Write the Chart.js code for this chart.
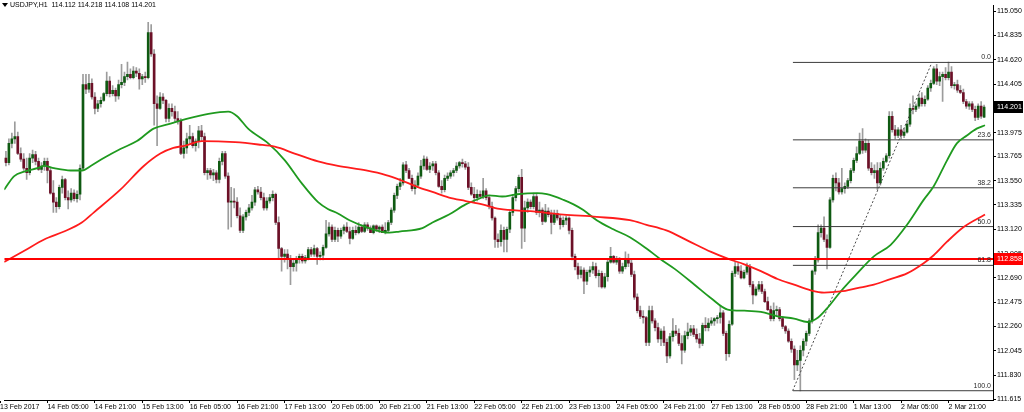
<!DOCTYPE html>
<html>
<head>
<meta charset="utf-8">
<script src="https://cdn.jsdelivr.net/npm/chart.js@4.4.1/dist/chart.umd.min.js"></script>
<style>
  html, body { margin: 0; padding: 0; background: #fff; }
  #wrap { width: 1024px; height: 412px; }
</style>
</head>
<body>
<div id="wrap"><canvas id="chart" width="1024" height="412"></canvas></div>
<script>
// USDJPY H1 - bar index 0 = 13 Feb 13:00, one bar per hour (weekend skipped)
const firstBar = 1;

const opens = [
  113.72,113.75,113.71,113.88,113.92,113.94,113.79,113.74,113.66,113.62,
  113.75,113.78,113.72,113.65,113.68,113.72,113.64,113.44,113.36,113.32,
  113.49,113.56,113.40,113.38,113.44,113.39,113.43,113.66,114.40,114.36,
  114.41,114.29,114.19,114.23,114.26,114.32,114.43,114.32,114.35,114.30,
  114.40,114.42,114.47,114.49,114.46,114.52,114.50,114.45,114.47,114.46,
  114.86,114.67,114.23,114.19,114.29,114.26,114.10,114.19,114.16,114.10,
  114.08,113.79,113.84,113.92,113.94,113.86,113.90,113.99,113.94,113.62,
  113.64,113.60,113.62,113.56,113.72,113.79,113.59,113.36,113.37,113.36,
  113.24,113.11,113.23,113.27,113.31,113.36,113.47,113.45,113.40,113.31,
  113.37,113.40,113.43,113.18,112.95,112.88,112.90,112.86,112.79,112.82,
  112.86,112.88,112.84,112.87,112.94,112.90,112.95,112.88,112.89,112.96,
  113.08,113.14,113.03,113.11,113.06,113.11,113.14,113.10,113.04,113.11,
  113.09,113.14,113.10,113.16,113.13,113.09,113.15,113.12,113.14,113.09,
  113.11,113.18,113.29,113.42,113.50,113.53,113.69,113.64,113.57,113.48,
  113.51,113.59,113.68,113.74,113.65,113.68,113.70,113.62,113.50,113.47,
  113.57,113.59,113.62,113.64,113.68,113.71,113.70,113.67,113.49,113.43,
  113.40,113.43,113.41,113.46,113.40,113.32,113.22,113.03,113.01,113.11,
  113.03,113.12,113.27,113.40,113.48,113.58,113.13,113.31,113.36,113.32,
  113.41,113.27,113.29,113.19,113.28,113.25,113.18,113.26,113.22,113.16,
  113.20,113.22,113.11,112.88,112.79,112.72,112.76,112.66,112.74,112.76,
  112.79,112.71,112.73,112.61,112.70,112.83,112.88,112.83,112.85,112.75,
  112.79,112.85,112.82,112.72,112.52,112.40,112.35,112.34,112.12,112.40,
  112.31,112.25,112.15,112.22,112.12,112.00,112.17,112.22,112.20,112.11,
  112.05,112.18,112.21,112.24,112.19,112.15,112.11,112.27,112.25,112.29,
  112.31,112.33,112.34,112.38,112.20,112.02,112.28,112.73,112.79,112.75,
  112.69,112.74,112.79,112.63,112.54,112.59,112.63,112.57,112.48,112.41,
  112.33,112.40,112.41,112.33,112.26,112.22,112.13,112.06,111.92,111.96,
  112.05,112.13,112.20,112.31,112.75,112.85,113.09,113.13,113.03,112.96,
  113.38,113.57,113.53,113.45,113.48,113.50,113.55,113.64,113.73,113.79,
  113.90,113.82,113.88,113.66,113.62,113.64,113.53,113.66,113.72,113.77,
  114.12,114.00,113.95,114.00,113.95,113.98,114.05,114.19,114.18,114.21,
  114.28,114.23,114.27,114.37,114.41,114.54,114.43,114.47,114.49,114.46,
  114.51,114.39,114.40,114.35,114.33,114.25,114.21,114.23,114.18,114.11,
  114.21,114.112
];
const highs = [
  113.79,113.81,113.92,113.97,114.07,113.98,113.84,113.79,113.75,113.79,
  113.82,113.81,113.75,113.71,113.75,113.75,113.66,113.55,113.40,113.51,
  113.59,113.57,113.46,113.48,113.47,113.46,113.69,114.49,114.49,114.49,
  114.45,114.33,114.26,114.29,114.33,114.51,114.47,114.39,114.37,114.44,
  114.58,114.51,114.60,114.54,114.56,114.55,114.54,114.49,114.51,114.95,
  114.93,114.71,114.30,114.33,114.32,114.27,114.23,114.23,114.21,114.16,
  114.10,113.90,113.97,114.04,113.97,113.92,114.03,114.04,113.97,113.66,
  113.66,113.65,113.64,113.75,113.81,113.81,113.62,113.49,113.48,113.40,
  113.31,113.25,113.29,113.34,113.42,113.49,113.50,113.49,113.44,113.40,
  113.43,113.46,113.44,113.23,112.96,112.94,112.94,112.89,112.85,112.88,
  112.90,112.90,112.89,112.96,112.96,112.98,112.96,112.92,112.98,113.20,
  113.18,113.16,113.14,113.13,113.13,113.16,113.18,113.14,113.14,113.15,
  113.18,113.16,113.18,113.18,113.15,113.16,113.16,113.15,113.16,113.18,
  113.20,113.31,113.44,113.52,113.57,113.71,113.72,113.66,113.60,113.55,
  113.62,113.73,113.77,113.76,113.71,113.72,113.72,113.64,113.55,113.60,
  113.62,113.64,113.66,113.71,113.72,113.74,113.72,113.71,113.53,113.49,
  113.47,113.46,113.57,113.48,113.42,113.36,113.23,113.08,113.16,113.14,
  113.14,113.29,113.43,113.50,113.60,113.65,113.37,113.39,113.38,113.44,
  113.43,113.36,113.31,113.34,113.31,113.29,113.29,113.29,113.25,113.23,
  113.24,113.23,113.13,112.90,112.82,112.79,112.78,112.76,112.79,112.83,
  112.82,112.76,112.75,112.73,112.85,112.96,112.89,112.88,112.87,112.82,
  112.92,112.90,112.85,112.75,112.55,112.44,112.40,112.35,112.44,112.44,
  112.33,112.29,112.24,112.26,112.15,112.20,112.33,112.27,112.24,112.18,
  112.22,112.29,112.27,112.27,112.24,112.20,112.29,112.34,112.33,112.34,
  112.34,112.36,112.44,112.40,112.22,112.31,112.75,112.83,112.82,112.80,
  112.76,112.82,112.81,112.66,112.61,112.66,112.66,112.59,112.52,112.44,
  112.47,112.44,112.43,112.35,112.27,112.24,112.15,112.09,112.05,112.09,
  112.15,112.22,112.33,112.76,112.88,113.16,113.16,113.23,113.07,113.40,
  113.60,113.62,113.57,113.66,113.53,113.57,113.66,113.75,113.85,113.97,
  114.01,113.92,113.91,113.71,113.69,113.71,113.71,113.75,113.79,114.16,
  114.16,114.04,114.02,114.04,114.01,114.07,114.23,114.30,114.23,114.32,
  114.33,114.30,114.39,114.44,114.56,114.58,114.51,114.51,114.55,114.60,
  114.56,114.42,114.44,114.39,114.36,114.27,114.25,114.25,114.21,114.23,
  114.25,114.218
];
const lows = [
  113.66,113.68,113.69,113.84,113.88,113.78,113.72,113.64,113.56,113.60,
  113.71,113.69,113.64,113.62,113.64,113.53,113.43,113.27,113.27,113.30,
  113.44,113.38,113.30,113.36,113.37,113.36,113.38,113.64,114.32,114.33,
  114.27,114.14,114.16,114.20,114.25,114.30,114.29,114.30,114.25,114.27,
  114.37,114.39,114.44,114.45,114.45,114.47,114.36,114.40,114.42,114.45,
  114.65,114.04,113.86,114.18,114.23,114.07,114.07,114.12,114.07,114.05,
  113.78,113.75,113.79,113.88,113.84,113.81,113.84,113.90,113.60,113.56,
  113.57,113.55,113.53,113.53,113.69,113.57,113.12,113.14,113.31,113.22,
  113.09,113.09,113.20,113.24,113.29,113.33,113.43,113.38,113.29,113.29,
  113.35,113.37,113.16,112.86,112.75,112.83,112.77,112.63,112.75,112.75,
  112.82,112.82,112.82,112.85,112.88,112.88,112.81,112.85,112.85,112.95,
  113.06,113.01,113.01,113.01,113.04,113.08,113.09,112.99,113.03,113.07,
  113.08,113.09,113.09,113.11,113.09,113.08,113.10,113.09,113.09,113.08,
  113.09,113.16,113.27,113.39,113.47,113.51,113.62,113.57,113.46,113.43,
  113.49,113.57,113.65,113.64,113.62,113.64,113.60,113.49,113.44,113.45,
  113.55,113.57,113.59,113.62,113.66,113.67,113.65,113.47,113.42,113.36,
  113.37,113.39,113.39,113.38,113.30,113.20,112.96,112.96,112.97,112.92,
  112.92,113.09,113.24,113.37,113.45,112.95,113.01,113.27,113.30,113.30,
  113.25,113.23,113.16,113.18,113.23,113.08,113.16,113.20,113.12,113.14,
  113.16,113.08,112.85,112.76,112.68,112.69,112.55,112.63,112.70,112.73,
  112.69,112.61,112.60,112.60,112.66,112.82,112.82,112.81,112.73,112.73,
  112.77,112.79,112.70,112.50,112.38,112.33,112.29,112.09,112.09,112.29,
  112.22,112.12,112.09,112.09,111.94,111.98,112.13,112.18,112.09,111.93,
  112.03,112.15,112.18,112.17,112.12,112.07,112.09,112.22,112.22,112.27,
  112.27,112.29,112.29,112.18,111.96,111.99,112.27,112.70,112.72,112.68,
  112.68,112.72,112.61,112.46,112.53,112.57,112.55,112.47,112.40,112.31,
  112.31,112.35,112.31,112.24,112.20,112.12,112.03,111.79,111.87,111.69,
  112.00,112.09,112.18,112.29,112.72,112.83,113.05,113.01,112.77,112.95,
  113.36,113.46,113.43,113.43,113.44,113.48,113.53,113.62,113.71,113.78,
  113.79,113.80,113.64,113.60,113.57,113.47,113.51,113.64,113.71,113.75,
  113.98,113.92,113.93,113.92,113.93,113.97,114.03,114.14,114.16,114.19,
  114.21,114.21,114.26,114.34,114.40,114.40,114.39,114.25,114.44,114.44,
  114.37,114.36,114.33,114.32,114.23,114.19,114.18,114.16,114.08,114.09,
  114.10,114.108
];
const closes = [
  113.75,113.71,113.88,113.92,113.94,113.79,113.74,113.66,113.62,113.75,
  113.78,113.72,113.65,113.68,113.72,113.64,113.44,113.36,113.32,113.49,
  113.56,113.40,113.38,113.44,113.39,113.43,113.66,114.40,114.36,114.41,
  114.29,114.19,114.23,114.26,114.32,114.43,114.32,114.35,114.30,114.40,
  114.42,114.47,114.49,114.46,114.52,114.50,114.45,114.47,114.46,114.86,
  114.67,114.23,114.19,114.29,114.26,114.10,114.19,114.16,114.10,114.08,
  113.79,113.84,113.92,113.94,113.86,113.90,113.99,113.94,113.62,113.64,
  113.60,113.62,113.56,113.72,113.79,113.59,113.36,113.37,113.36,113.24,
  113.11,113.23,113.27,113.31,113.36,113.47,113.45,113.40,113.31,113.37,
  113.40,113.43,113.18,112.95,112.88,112.90,112.86,112.79,112.82,112.86,
  112.88,112.84,112.87,112.94,112.90,112.95,112.88,112.89,112.96,113.08,
  113.14,113.03,113.11,113.06,113.11,113.14,113.10,113.04,113.11,113.09,
  113.14,113.10,113.16,113.13,113.09,113.15,113.12,113.14,113.09,113.11,
  113.18,113.29,113.42,113.50,113.53,113.69,113.64,113.57,113.48,113.51,
  113.59,113.68,113.74,113.65,113.68,113.70,113.62,113.50,113.47,113.57,
  113.59,113.62,113.64,113.68,113.71,113.70,113.67,113.49,113.43,113.40,
  113.43,113.41,113.46,113.40,113.32,113.22,113.03,113.01,113.11,113.03,
  113.12,113.27,113.40,113.48,113.58,113.13,113.31,113.36,113.32,113.41,
  113.27,113.29,113.19,113.28,113.25,113.18,113.26,113.22,113.16,113.20,
  113.22,113.11,112.88,112.79,112.72,112.76,112.66,112.74,112.76,112.79,
  112.71,112.73,112.61,112.70,112.83,112.88,112.83,112.85,112.75,112.79,
  112.85,112.82,112.72,112.52,112.40,112.35,112.34,112.12,112.40,112.31,
  112.25,112.15,112.22,112.12,112.00,112.17,112.22,112.20,112.11,112.05,
  112.18,112.21,112.24,112.19,112.15,112.11,112.27,112.25,112.29,112.31,
  112.33,112.34,112.38,112.20,112.02,112.28,112.73,112.79,112.75,112.69,
  112.74,112.79,112.63,112.54,112.59,112.63,112.57,112.48,112.41,112.33,
  112.40,112.41,112.33,112.26,112.22,112.13,112.06,111.92,111.96,112.05,
  112.13,112.20,112.31,112.75,112.85,113.09,113.13,113.03,112.96,113.38,
  113.57,113.53,113.45,113.48,113.50,113.55,113.64,113.73,113.79,113.90,
  113.82,113.88,113.66,113.62,113.64,113.53,113.66,113.72,113.77,114.12,
  114.00,113.95,114.00,113.95,113.98,114.05,114.19,114.18,114.21,114.28,
  114.23,114.27,114.37,114.41,114.54,114.43,114.47,114.49,114.46,114.51,
  114.39,114.40,114.35,114.33,114.25,114.21,114.23,114.18,114.11,114.21,
  114.12,114.201
];

// moving averages (bar position, price)
const maGreenBars = [1.4,4.8,8.2,12.6,14.9,18.2,23.8,27.7,30.6,35,40.6,46.2,51.8,56.9,63.6,70.3,77,80,83.7,90.5,96.1,101.7,107.3,110.6,114,117.9,123.5,131.3,134.7,142.5,145.9,151.5,157.1,161.6,165,169.4,174.4,181.2,184.5,190.1,193.5,196.8,201.3,206.9,212.5,218.1,222.6,227.6,234.3,239.9,245.5,251.1,256.7,262.3,267.9,272.4,276,279,283.6,289.2,294.8,300.4,306,311.6,315,319.5,322.8,326.2,329.5,332.3];
const maGreenVals = [113.47,113.59,113.63,113.66,113.68,113.66,113.64,113.64,113.68,113.75,113.83,113.90,114.01,114.05,114.10,114.14,114.16,114.12,114.01,113.88,113.73,113.53,113.36,113.30,113.26,113.20,113.14,113.09,113.10,113.13,113.18,113.25,113.34,113.39,113.42,113.41,113.43,113.44,113.43,113.38,113.34,113.29,113.20,113.12,113.05,112.95,112.86,112.77,112.63,112.51,112.41,112.40,112.39,112.35,112.33,112.30,112.34,112.42,112.57,112.73,112.88,112.98,113.16,113.38,113.50,113.73,113.88,113.95,114.01,114.04];
const maRedBars = [1.4,8.2,14.9,21.6,27.6,31.7,40.6,48.5,54.1,58.5,62.5,68.1,79.3,87.1,92.7,99.4,107.3,114,123.5,130.2,134.7,140.3,145.9,151.5,157.1,162.7,168.5,178.9,190.1,201.3,212.5,218.1,224.8,232,239.9,245.5,251.1,256.7,262.3,267.9,273.5,278,283.6,289.2,294.8,300.4,306,311.6,315,319.5,325.1,332.3];
const maRedVals = [112.83,112.93,113.03,113.10,113.18,113.27,113.47,113.68,113.79,113.84,113.86,113.90,113.89,113.87,113.85,113.79,113.72,113.68,113.64,113.60,113.56,113.50,113.45,113.40,113.37,113.34,113.30,113.28,113.25,113.23,113.20,113.16,113.11,113.02,112.92,112.86,112.81,112.75,112.68,112.63,112.58,112.56,112.57,112.60,112.63,112.68,112.73,112.82,112.89,113.01,113.14,113.25];

// fibonacci retracement and drawn objects
const fibLabels = ['0.0', '23.6', '38.2', '50.0', '61.8', '100.0'];
const fibLevels = [114.596, 113.911, 113.487, 113.144, 112.801, 111.692];
const fibStartBar = 267.5;
const trendBars = [267.4, 314.4];
const trendVals = [111.692, 114.596];
const supportLevel = 112.858;
const lastPrice = 114.201;
const titleText = 'USDJPY,H1  114.112 114.218 114.108 114.201';

// axes
const tickBars = [0,16,32,48,64,80,96,112,128,144,160,176,192,208,224,240,256,272,288,304,320];
const tickLabels = ['13 Feb 2017','14 Feb 05:00','14 Feb 21:00','15 Feb 13:00','16 Feb 05:00','16 Feb 21:00','17 Feb 13:00','20 Feb 05:00','20 Feb 21:00','21 Feb 13:00','22 Feb 05:00','22 Feb 21:00','23 Feb 13:00','24 Feb 05:00','24 Feb 21:00','27 Feb 13:00','28 Feb 05:00','28 Feb 21:00','1 Mar 13:00','2 Mar 05:00','2 Mar 21:00'];
const priceTicks = [111.615,111.830,112.045,112.260,112.475,112.690,112.905,113.120,113.335,113.550,113.765,113.975,114.190,114.405,114.620,114.835,115.050];

const X_MIN = 1.444, X_MAX = 335.0;
const Y_MIN = 111.610, Y_MAX = 115.102;
const FONT = '"Liberation Sans", Arial, sans-serif';
const BULL = '#0f5a12';
const BEAR = '#6c1027';

const barIdx = opens.map((o, i) => firstBar + i);
const wickData = barIdx.map((k, i) => ({ x: k, y: [lows[i], highs[i]] }));
const bodyData = barIdx.map((k, i) => ({ x: k, y: [opens[i], closes[i]] }));
const bodyColors = opens.map((o, i) => closes[i] >= o ? BULL : BEAR);

function pairs(xs, ys) {
    return xs.map((x, i) => ({ x: x, y: ys[i] }));
}

const lineDefaults = { type: 'line', pointRadius: 0, fill: false, borderWidth: 1 };

const datasets = [
    { type: 'bar', data: wickData, backgroundColor: '#9c9c9c', barThickness: 1, grouped: false, order: 5 },
    { type: 'bar', data: bodyData, backgroundColor: bodyColors, barThickness: 2, minBarLength: 1, grouped: false, order: 4 },
    Object.assign({}, lineDefaults, { data: pairs(maRedBars, maRedVals), borderColor: '#ff1c1c', borderWidth: 1.8, cubicInterpolationMode: 'monotone', order: 1 }),
    Object.assign({}, lineDefaults, { data: pairs(maGreenBars, maGreenVals), borderColor: '#1f9a1f', borderWidth: 1.8, cubicInterpolationMode: 'monotone', order: 1 }),
    Object.assign({}, lineDefaults, { data: pairs([X_MIN, X_MAX], [supportLevel, supportLevel]), borderColor: '#ff0000', borderWidth: 2, order: 0 }),
    Object.assign({}, lineDefaults, { data: pairs(trendBars, trendVals), borderColor: '#4a4a4a', borderDash: [2, 2], order: 2 })
];
fibLevels.forEach(lv => {
    datasets.push(Object.assign({}, lineDefaults, {
        data: pairs([fibStartBar, X_MAX], [lv, lv]), borderColor: '#3c3c3c', order: 2
    }));
});

// fib labels, price boxes and title
const overlay = {
    id: 'overlay',
    afterDatasetsDraw(chart) {
        const { ctx, chartArea, scales } = chart;
        ctx.save();
        ctx.font = '7px ' + FONT;
        ctx.fillStyle = '#2a2a2a';
        ctx.textAlign = 'right';
        ctx.textBaseline = 'bottom';
        fibLevels.forEach((lv, i) => {
            ctx.fillText(fibLabels[i], chartArea.right - 2, Math.round(scales.y.getPixelForValue(lv)) - 1);
        });
        ctx.restore();
    },
    afterDraw(chart) {
        const { ctx, chartArea, scales } = chart;
        ctx.save();
        ctx.font = '7px ' + FONT;
        ctx.textBaseline = 'middle';
        ctx.textAlign = 'left';
        [[lastPrice, '#000000'], [supportLevel, '#ff0000']].forEach(([p, col]) => {
            const y = Math.round(scales.y.getPixelForValue(p));
            ctx.fillStyle = col;
            ctx.fillRect(chartArea.right + 1, y - 6, 29, 12);
            ctx.fillStyle = '#ffffff';
            ctx.fillText(p.toFixed(3), chartArea.right + 4, y + 0.5);
        });
        // small triangle + symbol line
        ctx.fillStyle = '#000';
        ctx.beginPath();
        ctx.moveTo(2, 3); ctx.lineTo(8, 3); ctx.lineTo(5, 7); ctx.closePath();
        ctx.fill();
        ctx.fillText(titleText, 10, 5.5);
        ctx.restore();
    }
};

new Chart(document.getElementById('chart'), {
    type: 'bar',
    data: { datasets: datasets },
    options: {
        responsive: false,
        animation: false,
        parsing: true,
        layout: { padding: 0, autoPadding: false },
        plugins: { legend: { display: false }, tooltip: { enabled: false }, title: { display: false } },
        scales: {
            x: {
                type: 'linear', min: X_MIN, max: X_MAX, offset: false,
                afterBuildTicks: s => { s.ticks = tickBars.map(v => ({ value: v })); },
                afterFit: s => { s.height = 12; },
                grid: { drawOnChartArea: false, drawTicks: true, tickLength: 3, color: '#000', offset: false },
                border: { display: true, color: '#000' },
                ticks: {
                    autoSkip: false, maxRotation: 0, align: 'start', padding: 0,
                    color: '#000', font: { family: FONT, size: 7 },
                    callback: (v, i) => tickLabels[i]
                }
            },
            y: {
                type: 'linear', position: 'right', min: Y_MIN, max: Y_MAX,
                afterBuildTicks: s => { s.ticks = priceTicks.map(v => ({ value: v })); },
                afterFit: s => { s.width = 31; },
                grid: { drawOnChartArea: false, drawTicks: true, tickLength: 3, color: '#000' },
                border: { display: true, color: '#000' },
                ticks: {
                    autoSkip: false, padding: 1, color: '#000', font: { family: FONT, size: 7 },
                    callback: v => v.toFixed(3)
                }
            }
        }
    },
    plugins: [overlay]
});
</script>
</body>
</html>
